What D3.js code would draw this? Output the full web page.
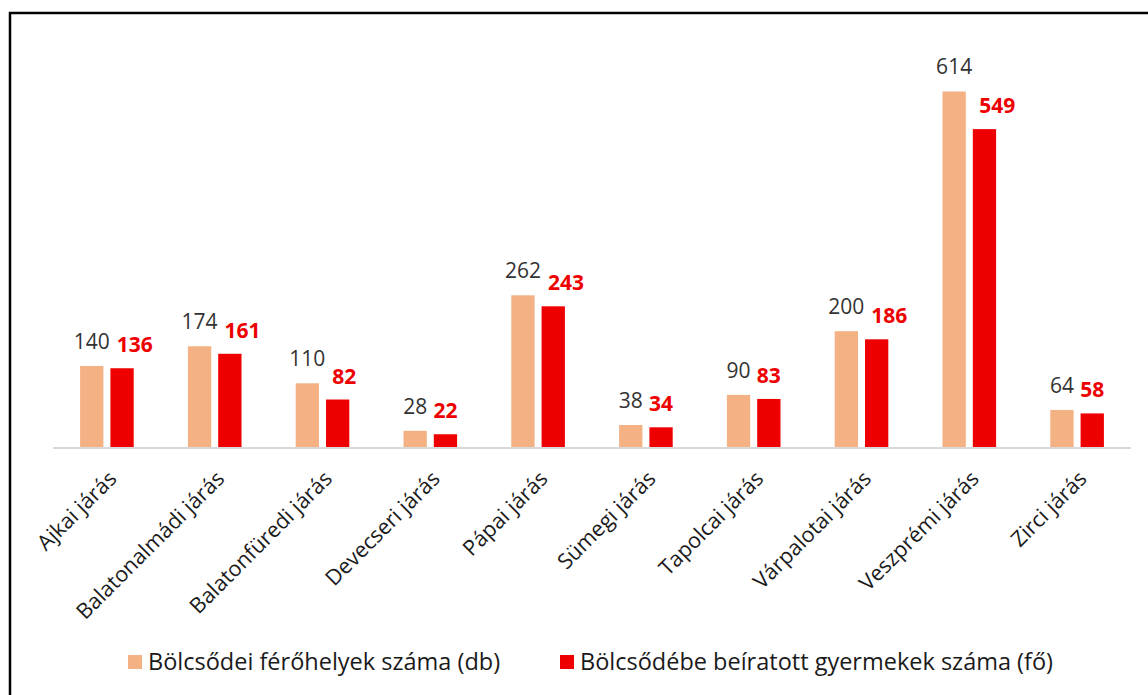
<!DOCTYPE html>
<html>
<head>
<meta charset="utf-8">
<title>Bölcsődei férőhelyek</title>
<script src="https://d3js.org/d3.v7.min.js"></script>
<style>
	body { margin: 0; background: #fff; }
	text { font-family: "Open Sans", sans-serif; }
</style>
</head>
<body>
<div id="chart"></div>
<script>

	// data
	var categories = ["Ajkai járás", "Balatonalmádi járás", "Balatonfüredi járás", "Devecseri járás",
		"Pápai járás", "Sümegi járás", "Tapolcai járás", "Várpalotai járás", "Veszprémi járás", "Zirci járás"];
	var ferohelyek = [140, 174, 110, 28, 262, 38, 90, 200, 614, 64];
	var beiratottak = [136, 161, 82, 22, 243, 34, 83, 186, 549, 58];
	var seriesNames = ["Bölcsődei férőhelyek száma (db)", "Bölcsődébe beíratott gyermekek száma (fő)"];
	var seriesColors = ["#F4B183", "#EE0000"];

	var width = 1148, height = 695;

	var svg = d3.select("#chart").append("svg")
		.attr("width", width)
		.attr("height", height);

	// frame of the chart area
	svg.append("rect")
		.attr("x", 10).attr("y", 13)
		.attr("width", 1300).attr("height", 900)
		.attr("fill", "none")
		.attr("stroke", "#000")
		.attr("stroke-width", 2.5);

	var x = d3.scaleBand()
		.domain(categories)
		.range([53, 1131]);

	var xs = d3.scaleBand()
		.domain([0, 1])
		.range([0, x.bandwidth()])
		.paddingInner(0.231)
		.paddingOuter(0.894);

	var y = d3.scaleLinear()
		.domain([0, 700])
		.range([447, 447 - 700 * 0.579]);

	var rows = categories.map(function (c, i) {
		return { cat: c, values: [ferohelyek[i], beiratottak[i]] };
	});

	// baseline
	svg.append("line")
		.attr("x1", 53).attr("x2", 1131)
		.attr("y1", 448).attr("y2", 448)
		.attr("stroke", "#D9D9D9")
		.attr("stroke-width", 2);

	var groups = svg.selectAll(".cat")
		.data(rows)
		.enter()
		.append("g")
		.attr("class", "cat")
		.attr("transform", function (d) { return "translate(" + x(d.cat) + ",0)"; });

	groups.selectAll("rect")
		.data(function (d) { return d.values; })
		.enter()
		.append("rect")
		.attr("x", function (d, i) { return xs(i); })
		.attr("width", xs.bandwidth())
		.attr("y", function (d) { return y(d); })
		.attr("height", function (d) { return y(0) - y(d); })
		.attr("fill", function (d, i) { return seriesColors[i]; });

	// value labels: first series centred, second pushed right if it would touch the first
	groups.each(function (d) {
		var g = d3.select(this);
		var c0 = xs(0) + xs.bandwidth() / 2,
			c1 = xs(1) + xs.bandwidth() / 2;

		var t0 = g.append("text")
			.attr("x", c0)
			.attr("y", y(d.values[0]) - 17)
			.attr("text-anchor", "middle")
			.attr("font-size", 21)
			.attr("fill", "#333333")
			.text(d.values[0]);

		var t1 = g.append("text")
			.attr("y", y(d.values[1]) - 16)
			.attr("text-anchor", "start")
			.attr("font-size", 21)
			.attr("font-weight", "bold")
			.attr("fill", "#EE0000")
			.text(d.values[1]);

		var w0 = t0.node().getComputedTextLength(),
			w1 = t1.node().getComputedTextLength();
		var left = c1 - w1 / 2,
			right0 = c0 + w0 / 2;
		if (left < right0 + 6) left = right0 + 7;
		t1.attr("x", left);
	});

	// category labels, rotated
	svg.selectAll(".xlab")
		.data(categories)
		.enter()
		.append("text")
		.attr("class", "xlab")
		.attr("text-anchor", "end")
		.attr("font-size", 21.5)
		.attr("fill", "#1a1a1a")
		.attr("transform", function (d) {
			return "translate(" + (x(d) + x.bandwidth() / 2 + 11) + ",480) rotate(-45)";
		})
		.text(function (d) { return d; });

	// legend
	var legendX = [128, 560];
	var legend = svg.selectAll(".leg")
		.data(seriesNames)
		.enter()
		.append("g")
		.attr("class", "leg")
		.attr("transform", function (d, i) { return "translate(" + legendX[i] + ",655)"; });

	legend.append("rect")
		.attr("width", 14).attr("height", 14)
		.attr("fill", function (d, i) { return seriesColors[i]; });

	legend.append("text")
		.attr("x", 20)
		.attr("y", 14.5)
		.attr("font-size", 23.5)
		.attr("fill", "#1a1a1a")
		.text(function (d) { return d; });

</script>
</body>
</html>
